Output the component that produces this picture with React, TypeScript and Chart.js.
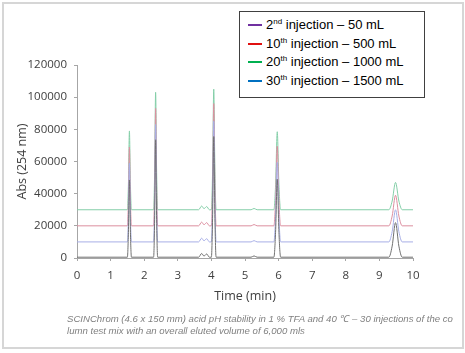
import React, { useEffect, useRef } from "react";
import { Chart, registerables } from "chart.js";
Chart.register(...registerables);

// Retention time (min)
const times = [0, 1.50, 1.53, 1.56, 1.59, 1.62, 2.28, 2.31, 2.34, 2.37, 2.40, 3.62, 3.71, 3.78, 3.86, 3.94, 4.00, 4.035, 4.07, 4.105, 4.14, 5.18, 5.27, 5.36, 5.86, 5.91, 5.96, 6.01, 6.06, 9.28, 9.38, 9.48, 9.58, 9.68, 10.0];

// Absorbance traces (offset chromatograms)
const inj2 = [500, 500, 15900, 48500, 15900, 500, 500, 23800, 73500, 23800, 500, 500, 2800, 1200, 2500, 500, 500, 24500, 75500, 24500, 500, 500, 1300, 500, 500, 16000, 49000, 16000, 500, 500, 7400, 22000, 7400, 500, 500];
const inj10 = [10000, 10000, 25700, 59000, 25700, 10000, 10000, 33400, 83000, 33400, 10000, 10000, 12300, 10700, 12000, 10000, 10000, 34000, 85000, 34000, 10000, 10000, 10800, 10000, 10000, 25800, 59500, 25800, 10000, 10000, 16400, 30000, 16400, 10000, 10000];
const inj20 = [20000, 20000, 35700, 69000, 35700, 20000, 20000, 43400, 93000, 43400, 20000, 20000, 22300, 20700, 22000, 20000, 20000, 44500, 96000, 44500, 20000, 20000, 20800, 20000, 20000, 35800, 69500, 35800, 20000, 20000, 26100, 39000, 26100, 20000, 20000];
const inj30 = [30000, 30000, 45700, 79000, 45700, 30000, 30000, 53400, 103000, 53400, 30000, 30000, 32300, 30700, 32000, 30000, 30000, 54000, 105000, 54000, 30000, 30000, 30800, 30000, 30000, 45500, 78500, 45500, 30000, 30000, 35400, 47000, 35400, 30000, 30000];

const seriesNames = ["2nd injection – 50 mL", "10th injection – 500 mL", "20th injection – 1000 mL", "30th injection – 1500 mL"];
const legendOrdinals = ["2", "10", "20", "30"];
const legendSuffixes = ["nd", "th", "th", "th"];
const legendRest = [" injection – 50 mL", " injection – 500 mL", " injection – 1000 mL", " injection – 1500 mL"];
const legendColors = ["#7030A0", "#E01010", "#00B050", "#0070C0"];
const traceColors = ["#707070", "#a7aee6", "#dc8e9f", "#84cea8"];

const yTicks = [0, 20000, 40000, 60000, 80000, 100000, 120000];

export default function App() {
  const ref = useRef<HTMLCanvasElement>(null);
  useEffect(() => {
    document.body.style.margin = "0";
    const series = [inj2, inj10, inj20, inj30];
    const tickFont = { family: "'Open Sans', sans-serif", size: 11.5 };
    const chart = new Chart(ref.current!, {
      type: "line",
      data: {
        datasets: series.map((s, k) => ({
          label: seriesNames[k],
          data: times.map((t, i) => ({ x: t, y: s[i] })),
          borderColor: traceColors[k],
          borderWidth: 1,
          pointRadius: 0,
          fill: false,
          cubicInterpolationMode: "monotone" as const,
        })),
      },
      options: {
        animation: false,
        responsive: false,
        maintainAspectRatio: false,
        layout: { padding: { left: 12, right: 52, top: 65, bottom: 45 } },
        plugins: { legend: { display: false }, tooltip: { enabled: false } },
        scales: {
          x: {
            type: "linear",
            min: 0,
            max: 10,
            afterFit: (s: any) => { s.height = 50; },
            ticks: { stepSize: 1, color: "#404040", font: tickFont, padding: 8, callback: (v: any) => String(v) },
            grid: { drawOnChartArea: false, tickLength: 3, color: "#a6a6a6" },
            border: { color: "#a6a6a6" },
            title: { display: true, text: "Time (min)", color: "#404040", font: { family: "'Open Sans', sans-serif", size: 12.5 }, padding: { top: 0, bottom: 4 } },
          },
          y: {
            min: 0,
            max: 120000,
            afterFit: (s: any) => { s.width = 65; },
            afterBuildTicks: (s: any) => { s.ticks = yTicks.map((v) => ({ value: v })); },
            ticks: { color: "#404040", font: tickFont, padding: 7, callback: (v: any) => String(v) },
            grid: { drawOnChartArea: false, tickLength: 3, color: "#a6a6a6" },
            border: { color: "#a6a6a6" },
            title: { display: true, text: "Abs (254 nm)", color: "#404040", font: { family: "'Open Sans', sans-serif", size: 12.5 }, padding: { top: 3, bottom: 0 } },
          },
        },
      },
    });
    return () => chart.destroy();
  }, []);

  return (
    <div style={{ position: "fixed", left: 0, top: 0, width: 465, height: 353, background: "#fff" }}>
      <div style={{ position: "absolute", left: 2, top: 2, width: 458, height: 343, border: "2px solid #d6d6d6" }} />
      <canvas ref={ref} width={465} height={353} style={{ position: "absolute", left: 0, top: 0, width: 465, height: 353 }} />
      <div style={{ position: "absolute", left: 239, top: 11, width: 184, height: 85, border: "1px solid #404040", background: "#fff", fontFamily: "'Liberation Sans', Arial, sans-serif", fontSize: 13, color: "#000" }}>
        {legendOrdinals.map((o, i) => (
          <div key={i} style={{ position: "absolute", left: 8, top: 4 + i * 18.7, height: 18, lineHeight: "18px", whiteSpace: "nowrap", display: "flex", alignItems: "center" }}>
            <span style={{ display: "inline-block", width: 14, height: 2, background: legendColors[i], marginRight: 4 }} />
            <span>
              {o}
              <sup style={{ fontSize: 8, verticalAlign: "top", lineHeight: "12px" }}>{legendSuffixes[i]}</sup>
              {legendRest[i]}
            </span>
          </div>
        ))}
      </div>
      <div style={{ position: "absolute", left: 67, top: 313, width: 395, fontFamily: "'Liberation Sans', Arial, sans-serif", fontStyle: "italic", fontSize: 9.6, lineHeight: "12px", color: "#808080", whiteSpace: "nowrap" }}>
        <div>SCINChrom (4.6 x 150 mm) acid pH stability in 1 % TFA and 40 ℃ – 30 injections of the co</div>
        <div>lumn test mix with an overall eluted volume of 6,000 mls</div>
      </div>
    </div>
  );
}
